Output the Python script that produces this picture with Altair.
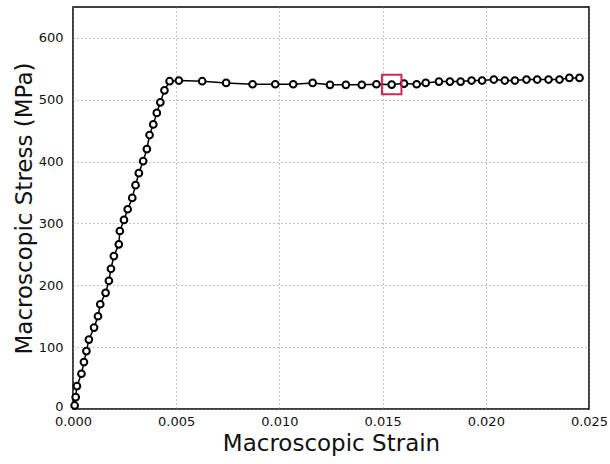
import altair as alt
import pandas as pd

strain = [0.00008, 0.00013, 0.00019, 0.00041, 0.00053, 0.00065, 0.00077, 0.00102,
          0.00121, 0.00132, 0.00158, 0.00174, 0.00184, 0.00198, 0.00222, 0.00227,
          0.00247, 0.00265, 0.00287, 0.00303, 0.00319, 0.00340, 0.00358, 0.00371,
          0.00389, 0.00406, 0.00423, 0.00443, 0.00468, 0.00513,
          0.00626, 0.00742, 0.00870, 0.00980, 0.01067, 0.01161, 0.01245, 0.01322,
          0.01399, 0.01470, 0.01544, 0.01604, 0.01665, 0.01709, 0.01773, 0.01826,
          0.01878, 0.01931, 0.01982, 0.02039, 0.02092, 0.02141, 0.02197, 0.02249,
          0.02304, 0.02357, 0.02405, 0.02454]
stress = [5.7, 19.1, 37.0, 57.0, 75.9, 93.7, 112.2, 131.6,
          150.0, 169.4, 187.8, 207.3, 226.7, 247.3, 266.2, 287.8,
          305.7, 323.0, 341.3, 361.9, 381.3, 400.8, 420.3, 443.0,
          460.2, 478.7, 495.9, 515.3, 530.0, 531.1,
          530.0, 527.3, 525.1, 525.1, 525.1, 527.3, 524.1, 524.1,
          524.1, 525.1, 524.6, 526.2, 525.1, 527.3, 529.4, 529.4,
          529.4, 531.1, 531.1, 532.7, 531.1, 531.1, 532.7, 532.7,
          532.7, 532.7, 535.4, 535.4]

box_strain = [0.01544]
box_stress = [524.6]

x_ticks = [0.0, 0.005, 0.01, 0.015, 0.02, 0.025]
y_ticks = [0, 100, 200, 300, 400, 500, 600]

df = pd.DataFrame({"strain": strain, "stress": stress})
dbox = pd.DataFrame({"strain": box_strain, "stress": box_stress})

FONT = "DejaVu Sans"

xs = alt.Scale(domain=[0, 0.025], nice=False, zero=False, padding=0)
ys = alt.Scale(domain=[0, 650], nice=False, padding=0)

xaxis = alt.Axis(values=x_ticks, format=".3f", title="Macroscopic Strain",
                 grid=True, gridDash=[1, 3], gridColor="#888888", gridWidth=1,
                 ticks=False, labelPadding=6, labelFontSize=13, labelFont=FONT,
                 labelColor="#111111", domain=False, labelFlush=False,
                 labelOverlap=False,
                 titleFont=FONT, titleFontSize=23, titleFontWeight="normal",
                 titleColor="#111111", titlePadding=4)
yaxis = alt.Axis(values=y_ticks, format="d", title="Macroscopic Stress (MPa)",
                 grid=True, gridDash=[1, 3], gridColor="#888888", gridWidth=1,
                 ticks=False, labelPadding=10, labelFontSize=13, labelFont=FONT,
                 labelColor="#111111", domain=False, labelFlush=False,
                 labelOverlap=False,
                 labelOffset={"condition": {"test": "datum.value == 0", "value": -3},
                              "value": 0},
                 titleFont=FONT, titleFontSize=23, titleFontWeight="normal",
                 titleColor="#111111", titlePadding=2)

line = alt.Chart(df).mark_line(color="black", strokeWidth=1.5).encode(
    x=alt.X("strain:Q", scale=xs, axis=xaxis),
    y=alt.Y("stress:Q", scale=ys, axis=yaxis),
)
pts = alt.Chart(df).mark_point(shape="circle", filled=True, fill="white",
                               stroke="black", strokeWidth=2, size=45,
                               opacity=1).encode(
    x=alt.X("strain:Q", scale=xs),
    y=alt.Y("stress:Q", scale=ys),
)
box = alt.Chart(dbox).mark_point(shape="square", filled=False, color="#d6245a",
                                 strokeWidth=2, size=380, opacity=1).encode(
    x=alt.X("strain:Q", scale=xs),
    y=alt.Y("stress:Q", scale=ys),
)

chart = alt.layer(line, pts, box).properties(
    width=516, height=402,
    autosize=alt.AutoSizeParams(type="none"),
    padding={"left": 73, "top": 7, "right": 21, "bottom": 55},
    background="white",
).configure_view(stroke="black", strokeWidth=1.5)

chart.save("out.html", embed_options={"renderer": "svg", "actions": False})
